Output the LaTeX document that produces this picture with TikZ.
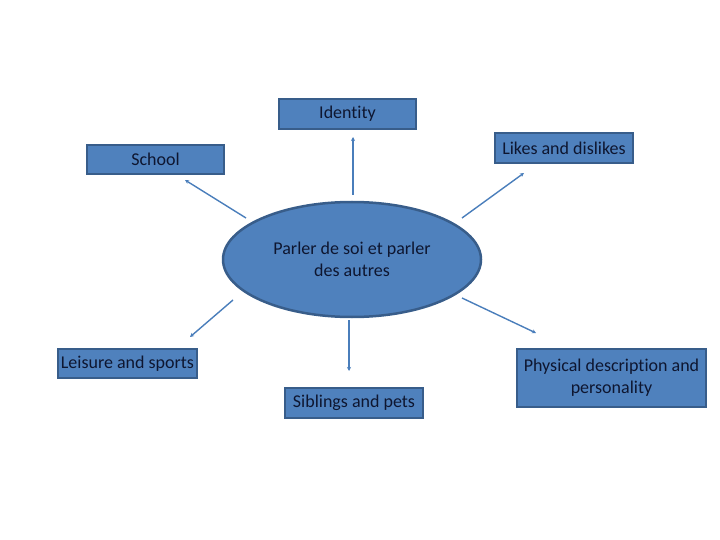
\documentclass[tikz,border=0pt]{standalone}
\usepackage{fontspec}
\setmainfont[Ligatures={NoCommon}]{Carlito}
\usetikzlibrary{shapes.geometric,arrows.meta}
\definecolor{boxfill}{HTML}{4F81BD}
\definecolor{boxline}{HTML}{385D8A}
\definecolor{txt}{HTML}{0E1630}
\definecolor{arr}{HTML}{4A7EBB}
\tikzset{
  topic/.style={draw=boxline, line width=2pt, fill=boxfill, text=txt, font=\fontsize{18}{22}\selectfont, inner sep=0pt, align=center},
  hub/.style={ellipse, draw=boxline, line width=2.5pt, fill=boxfill, text=txt, font=\fontsize{18}{22}\selectfont, align=center, minimum width=258pt, minimum height=115pt, inner sep=0pt},
  link/.style={draw=arr, line width=1.4pt, -{Stealth[length=4pt,width=4pt]}}
}
\begin{document}
\begin{tikzpicture}[x=1pt,y=-1pt]
\useasboundingbox (0,0) rectangle (720,540);
\node[hub] (c) at (352,259.5) {Parler de soi et parler\\des autres};
\node[topic, minimum width=137pt, minimum height=30pt] (id) at (347.5,114) {Identity};
\node[topic, minimum width=137pt, minimum height=29pt] (sc) at (155.5,159.5) {School};
\node[topic, minimum width=138pt, minimum height=30pt] (li) at (564,148) {Likes and dislikes};
\node[topic, minimum width=139pt, minimum height=29pt] (le) at (127.5,363.5) {Leisure and sports};
\node[topic, minimum width=138pt, minimum height=30pt] (si) at (354,403) {Siblings and pets};
\node[topic, minimum width=189pt, minimum height=58pt] (ph) at (611.5,378) {Physical description and\\personality};
\coordinate (a1s) at (353,195); \coordinate (a1e) at (353,137);
\coordinate (a2s) at (246,218); \coordinate (a2e) at (185,180);
\coordinate (a3s) at (462,218); \coordinate (a3e) at (524,173);
\coordinate (a4s) at (233,300); \coordinate (a4e) at (190,337);
\coordinate (a5s) at (349,320); \coordinate (a5e) at (349,371);
\coordinate (a6s) at (462,298); \coordinate (a6e) at (536,333);
\draw[link] (a1s) -- (a1e);
\draw[link] (a2s) -- (a2e);
\draw[link] (a3s) -- (a3e);
\draw[link] (a4s) -- (a4e);
\draw[link] (a5s) -- (a5e);
\draw[link] (a6s) -- (a6e);
\end{tikzpicture}
\end{document}
